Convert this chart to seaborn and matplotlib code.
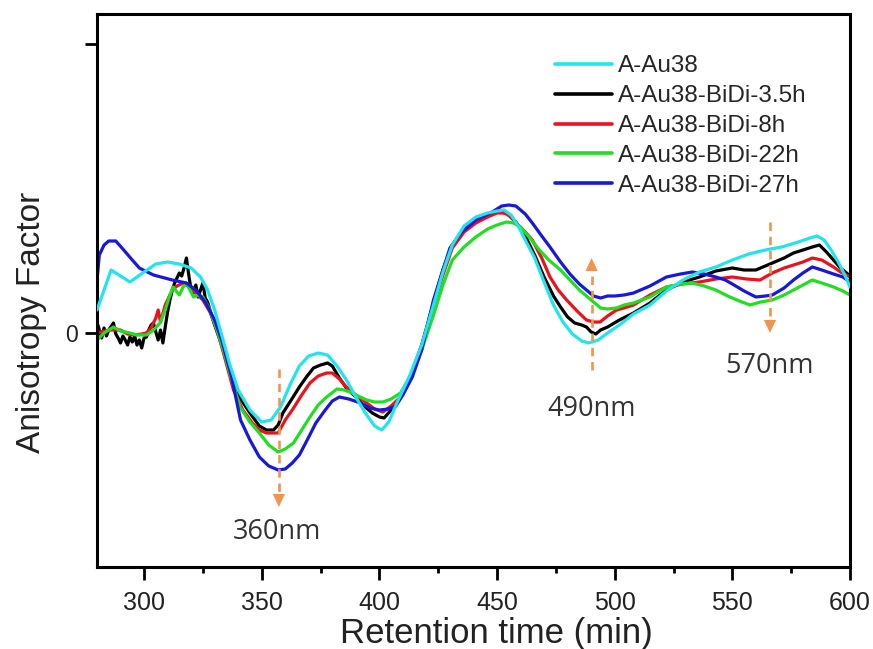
import numpy as np
import pandas as pd
import matplotlib
matplotlib.use("Agg")
import matplotlib.pyplot as plt
import seaborn as sns

# ---------------- data (y in arbitrary units) ----------------
labels = ["A-Au38", "A-Au38-BiDi-3.5h", "A-Au38-BiDi-8h", "A-Au38-BiDi-22h", "A-Au38-BiDi-27h"]
colors = ["#22E3EE", "#000000", "#E8141C", "#22DD22", "#1818D8"]

cyan_t = [280, 283, 286, 290, 294, 300, 305, 310, 315, 320, 324, 327, 330, 333, 336.5, 340, 345, 350, 354, 358,
          362, 366, 370, 374, 378, 382, 386, 390, 394, 398, 401, 404, 408, 413, 418, 423, 427, 431, 436, 441,
          446, 450, 453, 456, 459, 462, 466, 470, 474, 478, 482, 486, 489, 493, 497, 502, 508, 515, 522, 529,
          536, 543, 550, 557, 564, 571, 578, 583, 586, 589, 592, 595, 598, 600]
cyan_v = [23, 43, 63, 57, 51, 61, 69, 71, 69, 65, 56, 43, 23, -2, -32, -57, -77, -89, -87, -74,
          -52, -33, -23, -20, -22, -33, -47, -64, -80, -93, -97, -89, -67, -42, -12, 28, 61, 88, 107, 116,
          120, 122, 123, 118, 107, 93, 75, 51, 28, 11, -1, -8, -10, -7, 0, 8, 19, 28, 42, 53,
          61, 66, 73, 79, 83, 86, 91, 95, 97, 93, 83, 71, 57, 46]

black_t = [280, 281, 282, 283, 284, 285, 287, 288, 289, 290, 291, 292, 293, 294, 295, 296, 297, 298, 299, 300,
           301, 302, 303, 304, 305, 306, 307, 308, 309, 310, 311, 312, 313, 314, 315, 316, 317, 318, 319, 320,
           321, 322, 323, 324, 325, 326, 327, 328, 330, 333, 336, 340, 345, 349, 352, 355, 357, 359, 362, 366,
           369, 372, 375, 378, 380, 383, 386, 390, 393, 397, 400, 402, 405, 409, 413, 418, 423, 427, 431, 436,
           440, 445, 450, 454, 458, 462, 466, 470, 474, 477, 480, 483, 486, 488, 490, 492, 494, 497, 502, 508,
           515, 522, 529, 536, 543, 550, 555, 560, 564, 567, 572, 576, 580, 584, 587, 590, 593, 596, 600]
black_v = [11, 3, -5, 5, -3, 3, 10, -1, -5, -10, -3, -7, -12, -4, -9, -3, -12, -7, -15, -5,
           -4, 3, 8, 10, 1, -7, 3, -10, 6, 21, 33, 43, 50, 55, 60, 57, 65, 75, 58, 43,
           40, 48, 36, 43, 50, 35, 31, 23, 8, -12, -37, -62, -80, -93, -97, -97, -92, -80, -69, -54,
           -44, -35, -32, -30, -33, -45, -55, -64, -72, -80, -84, -85, -77, -64, -45, -12, 30, 63, 88, 104,
           113, 118, 121, 120, 111, 97, 78, 56, 37, 26, 16, 10, 8, 6, 1, -1, 3, 6, 13, 20,
           30, 43, 51, 56, 62, 65, 63, 63, 67, 70, 75, 80, 83, 86, 88, 81, 73, 65, 57]

red_t = [280, 283, 286, 290, 293, 296, 299, 301, 303, 305, 306, 307, 309, 312, 314, 316.6, 318, 319.5, 322, 325,
         328, 331, 334, 338, 342, 346, 349, 352, 357, 360, 363, 367, 370.5, 374, 377.6, 380, 383, 386, 390, 394.6,
         398, 401.5, 405, 409, 414, 418, 423, 427, 431, 436, 441, 446, 450, 453, 455.5, 459, 462, 465, 469, 472.5,
         476, 479.6, 484, 488, 491, 493.8, 497, 500.8, 504, 508, 515, 522, 529, 536, 543, 550, 556, 561.8, 564, 567,
         572, 576, 580, 584, 588, 593, 596, 600]
red_v = [0, 2, 3, 3, -1, -2, -1, 0, 5, 15, 23, 11, 28, 43, 47, 50, 48, 46, 40, 33,
         21, 3, -22, -57, -77, -90, -97, -100, -100, -87, -77, -62, -50, -43, -40, -40, -46, -54, -62, -70,
         -76, -79, -73, -64, -39, -13, 28, 58, 85, 101, 110, 116, 120, 120, 117, 108, 101, 93, 75, 56,
         43, 33, 22, 13, 11, 11, 17, 23, 25, 28, 38, 46, 49, 51, 54, 56, 54, 53, 56, 60,
         65, 68, 71, 75, 73, 66, 61, 56]

green_t = [280, 283, 287, 290, 294, 297, 301, 304, 306.8, 309, 311, 312.4, 314, 315, 316.6, 318, 319.5, 321, 323, 325,
           328, 331, 334, 337, 340.8, 345, 349, 353, 357, 360, 363.5, 367, 370.5, 374, 377.6, 382, 385, 387.5, 391, 394.6,
           398, 401.5, 405, 409, 414, 418, 423, 427, 431, 436, 441, 446, 450, 454, 457, 460, 464, 468, 472, 477,
           481, 485, 490, 494, 497, 500.8, 504, 508, 515, 522, 528, 533, 538, 543, 548, 553, 557.5, 562, 567, 572,
           576, 580, 584, 588, 593, 597, 600]
green_v = [-7, 0, 6, 2, 0, -2, -2, 3, 10, 23, 38, 46, 41, 38, 46, 50, 43, 36, 38, 36,
           23, 3, -19, -45, -74, -89, -100, -112, -119, -116, -110, -97, -84, -72, -64, -56, -57, -59, -63, -67,
           -69, -69, -66, -60, -40, -17, 18, 48, 73, 86, 96, 104, 108, 111, 110, 106, 95, 83, 73, 63,
           53, 43, 33, 25, 24, 25, 28, 30, 36, 46, 49, 50, 47, 43, 37, 32, 28, 31, 33, 38,
           43, 48, 53, 50, 46, 42, 38]

blue_t = [280, 281, 283, 285, 288, 291, 295, 298, 304, 312, 318, 322, 326, 330, 333, 337, 341, 345, 349, 353,
          357, 360, 363, 366, 370, 373, 377, 380, 383, 387, 392, 396, 400, 404, 407, 410, 414, 418, 423, 427,
          430, 435, 441, 448, 452, 455, 458, 462, 465, 469, 472.5, 477, 481, 485, 488, 491, 494, 497, 500, 504,
          508, 515, 522, 528, 533, 538, 543, 547, 550, 555, 560, 564, 567, 572, 576, 580, 584, 588, 593, 597, 600]
blue_v = [53, 78, 88, 92, 92, 84, 73, 65, 58, 53, 50, 43, 31, 13, -7, -42, -87, -107, -124, -133,
          -137, -136, -130, -122, -104, -90, -77, -68, -64, -66, -70, -75, -77, -76, -73, -62, -44, -17, 33, 63,
          85, 101, 113, 121, 127, 128, 127, 119, 110, 97, 86, 71, 59, 49, 43, 37, 35, 37, 37, 38,
          40, 47, 56, 59, 61, 59, 56, 53, 49, 42, 36, 37, 38, 45, 53, 60, 66, 63, 59, 56, 51]

# annotations (wavelength markers)
marker_text = ["360nm", "490nm", "570nm"]
marker_x = [357.3, 490.2, 566.0]
marker_from = [-36, -37, 111]
marker_to = [-174, 75, 0]
text_x = [356.5, 490.0, 566.0]
text_y = [-199, -76, -33]

# ---------------- build table ----------------
series_t = [cyan_t, black_t, red_t, green_t, blue_t]
series_v = [cyan_v, black_v, red_v, green_v, blue_v]
frames = []
for lab, t, v in zip(labels, series_t, series_v):
    frames.append(pd.DataFrame({"time": t, "value": v, "sample": lab}))
df = pd.concat(frames, ignore_index=True)

# ---------------- style ----------------
sns.set_style("ticks")
plt.rcParams["font.family"] = ["Liberation Sans", "DejaVu Sans"]

fig = plt.figure(figsize=(8.73, 6.49), dpi=100)
ax = fig.add_axes([0.1111, 0.12635, 0.86254, 0.85208])

sns.lineplot(data=df, x="time", y="value", hue="sample", hue_order=labels,
             palette=dict(zip(labels, colors)), estimator=None, sort=False,
             linewidth=2.3, legend=False, ax=ax)
series_lines = list(ax.lines[:5])
series_lines[0].set_zorder(3)
for ln in series_lines:
    ln.set_solid_joinstyle("round")

# dashed orange arrows
orange = "#F0944E"
for mx, y0, y1 in zip(marker_x, marker_from, marker_to):
    direction = np.sign(y1 - y0)
    ax.plot([mx, mx], [y0, y1 - direction * 10], ls=(0, (3.2, 2.2)), color=orange, lw=1.9, zorder=4)
    ax.annotate("", xy=(mx, y1), xytext=(mx, y1 - direction * 14),
                arrowprops=dict(arrowstyle="-|>,head_length=0.47,head_width=0.22",
                                mutation_scale=20, color=orange, lw=0, shrinkA=0, shrinkB=0),
                zorder=4)
for tx, ty, s in zip(text_x, text_y, marker_text):
    ax.text(tx, ty, s, ha="center", va="center", fontsize=19.5, color="#333333",
            family=["Open Sans", "DejaVu Sans"])

ax.set_xlim(280, 600)
ax.set_ylim(-234, 319)
ax.set_xticks([300, 350, 400, 450, 500, 550, 600])
ax.set_xticks([325, 375, 425, 475, 525, 575], minor=True)
ax.set_yticks([0, 289])
ax.set_yticklabels(["0", ""])

for sp in ax.spines.values():
    sp.set_visible(True)
    sp.set_linewidth(2.2)
    sp.set_color("black")

ax.tick_params(axis="x", which="major", direction="out", length=9.4, width=2.0,
               labelsize=18, pad=8, colors="black", labelcolor="#222222")
ax.tick_params(axis="x", which="minor", direction="out", length=4.5, width=2.0, colors="black")
ax.tick_params(axis="y", which="major", direction="out", length=8.5, width=2.0,
               labelsize=16.5, pad=5, colors="black", labelcolor="#222222")

ax.set_xlabel("Retention time (min)", fontsize=25, color="#222222")
ax.xaxis.set_label_coords(0.531, -0.091)
ax.set_ylabel("Anisotropy Factor", fontsize=24, color="#222222")
ax.yaxis.set_label_coords(-0.066, 0.443)

leg = ax.legend(series_lines, labels, loc="upper left", bbox_to_anchor=(0.608, 0.925),
                frameon=False, fontsize=17.5, handlelength=2.35, handletextpad=0.25,
                labelspacing=0.32, borderpad=0, borderaxespad=0)
for h in leg.legend_handles:
    h.set_linewidth(2.6)

fig.savefig("out.png", dpi=100)
